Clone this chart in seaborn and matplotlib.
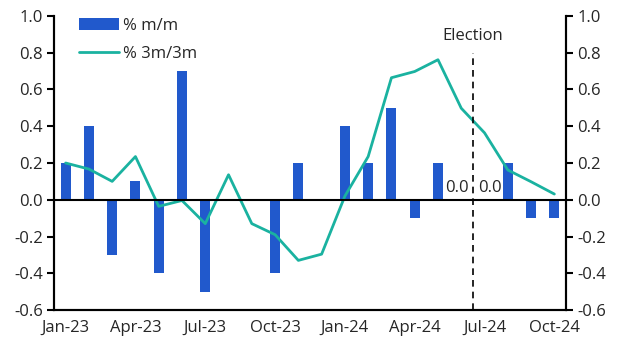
import numpy as np
import pandas as pd
import seaborn as sns
import matplotlib.pyplot as plt

months = ["Jan-23", "Feb-23", "Mar-23", "Apr-23", "May-23", "Jun-23", "Jul-23", "Aug-23",
          "Sep-23", "Oct-23", "Nov-23", "Dec-23", "Jan-24", "Feb-24", "Mar-24", "Apr-24",
          "May-24", "Jun-24", "Jul-24", "Aug-24", "Sep-24", "Oct-24"]
mm = [0.2, 0.4, -0.3, 0.1, -0.4, 0.7, -0.5, 0.0, 0.0, -0.4, 0.2, 0.0,
      0.4, 0.2, 0.5, -0.1, 0.2, 0.0, 0.0, 0.2, -0.1, -0.1]
m3 = [0.20, 0.167, 0.10, 0.235, -0.036, -0.004, -0.13, 0.136, -0.13, -0.19, -0.33, -0.296,
      0.02, 0.235, 0.664, 0.698, 0.762, 0.498, 0.364, 0.162, 0.098, 0.031]
yticks = [-0.6, -0.4, -0.2, 0.0, 0.2, 0.4, 0.6, 0.8, 1.0]

df = pd.DataFrame({"month": months, "mm": mm, "m3": m3, "i": np.arange(len(months))})

sns.set_theme(style="white")
plt.rcParams['font.family'] = ['Open Sans', 'DejaVu Sans']
fs = 12

blue = "#2159CC"
teal = "#1AB2A0"

fig = plt.figure(figsize=(6.27, 3.53), dpi=100)
ax = fig.add_axes([0.0861, 0.1218, 0.8166, 0.8329])

sns.barplot(data=df, x="i", y="mm", color=blue, width=0.43, saturation=1,
            ax=ax, label="% m/m", native_scale=True, linewidth=0, edgecolor="none")
sns.lineplot(data=df, x="i", y="m3", color=teal, linewidth=2.0, ax=ax, label="% 3m/3m")

ax.axhline(0, color="black", lw=1.5, zorder=3)
ax.plot([17.5, 17.5], [-0.6, 0.8], color="black", lw=1.2, ls=(0, (4, 3)), zorder=3)
ax.text(17.5, 0.89, "Election", ha="center", va="center", fontsize=fs)
ax.text(16.8, 0.02, "0.0", ha="center", va="bottom", fontsize=fs)
ax.text(18.25, 0.02, "0.0", ha="center", va="bottom", fontsize=fs)

ax.set_xlim(-0.5, len(months) - 0.5)
ax.set_ylim(-0.6, 1.0)
ax.set_xlabel("")
ax.set_ylabel("")

ax.set_xticks(np.arange(0, len(months), 3))
ax.set_xticklabels(months[::3], fontsize=fs)
ax.set_xticks(np.arange(-0.5, len(months), 3), minor=True)
ax.tick_params(axis="x", which="major", length=0, pad=7)
ax.tick_params(axis="x", which="minor", length=5, width=1.5, direction="out", color="black")

ax.set_yticks(yticks)
ax.set_yticklabels([f"{v:.1f}" for v in yticks], fontsize=fs)
ax.tick_params(axis="y", length=5, width=1.5, direction="out", color="black", left=True, pad=3)

ax2 = ax.twinx()
ax2.set_ylim(-0.6, 1.0)
ax2.set_yticks(yticks)
ax2.set_yticklabels([f"{v:.1f}" for v in yticks], fontsize=fs)
ax2.tick_params(axis="y", length=5, width=1.5, direction="out", color="black", right=True, pad=3)

for a in (ax, ax2):
    a.spines["top"].set_visible(False)
    for s in ("left", "right", "bottom"):
        a.spines[s].set_color("black")
        a.spines[s].set_linewidth(1.5)

handles, labels = ax.get_legend_handles_labels()
order = [labels.index("% m/m"), labels.index("% 3m/3m")]
ax.legend([handles[k] for k in order], [labels[k] for k in order],
          loc="upper left", bbox_to_anchor=(0.02, 1.045), frameon=False, fontsize=fs,
          handlelength=2.4, handletextpad=0.2, labelspacing=0.75)

fig.savefig("out.png", dpi=100)
